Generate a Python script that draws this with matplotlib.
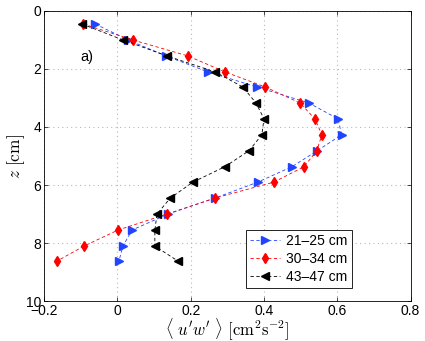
import numpy as np
import matplotlib
matplotlib.use("Agg")
import matplotlib.pyplot as plt

plt.rcParams['mathtext.fontset'] = 'cm'
plt.rcParams['font.family'] = ['Liberation Sans', 'DejaVu Sans']

# depth levels (cm)
z = [0.45, 1.0, 1.55, 2.1, 2.62, 3.17, 3.72, 4.27, 4.82, 5.37, 5.9, 6.45,
     7.0, 7.55, 8.1, 8.62]

# <u'w'> for each range
uw_21_25 = [-0.061, 0.029, 0.132, 0.247, 0.38, 0.522, 0.602, 0.612, 0.545,
            0.476, 0.383, 0.266, 0.138, 0.04, 0.015, 0.004]
uw_30_34 = [-0.094, 0.042, 0.192, 0.293, 0.403, 0.498, 0.539, 0.558, 0.544,
            0.509, 0.427, 0.266, 0.135, 0.002, -0.091, -0.165]
uw_43_47 = [-0.097, 0.015, 0.135, 0.266, 0.342, 0.378, 0.40, 0.394, 0.359,
            0.293, 0.206, 0.144, 0.108, 0.102, 0.102, 0.165]

labels = ['21\u201325 cm', '30\u201334 cm', '43\u201347 cm']

fig = plt.figure(figsize=(4.25, 3.41), dpi=100)
ax = fig.add_axes([0.104, 0.117, 0.862, 0.851])

ax.plot(uw_21_25, z, '--', color='#2244ff', marker='>', markersize=5.5,
        linewidth=0.6, label=labels[0], dashes=(4, 3))
ax.plot(uw_30_34, z, '--', color='#ff0000', marker='d', markersize=5.5,
        linewidth=0.6, label=labels[1], dashes=(4, 3))
ax.plot(uw_43_47, z, '--', color='black', marker='<', markersize=5.5,
        linewidth=0.6, label=labels[2], dashes=(4, 3))

ax.set_xlim(-0.2, 0.8)
ax.set_ylim(10, 0)
ax.set_xticks([-0.2, 0, 0.2, 0.4, 0.6, 0.8])
ax.set_xticklabels(['\u22120.2', '0', '0.2', '0.4', '0.6', '0.8'])
ax.set_yticks([0, 2, 4, 6, 8, 10])
ax.tick_params(direction='in', top=True, right=True, labelsize=10, length=3,
               width=0.5, pad=2)
for s in ax.spines.values():
    s.set_linewidth(0.6)
ax.grid(True, linestyle=(0, (1, 3)), color='#b8b8b8', linewidth=0.8)

ax.set_xlabel(r"$\langle\ u'w'\ \rangle\ [\mathrm{cm}^2\mathrm{s}^{-2}]$",
              fontsize=12, labelpad=-1)
ax.set_ylabel(r"$z\ [\mathrm{cm}]$", fontsize=12.5)
ax.yaxis.set_label_coords(-0.047, 0.5)

ax.text(-0.083, 1.6, 'a)', fontsize=10.5, va='center', ha='center')

leg = ax.legend(loc='lower right', bbox_to_anchor=(0.858, 0.02), fontsize=10,
                fancybox=False, framealpha=1, edgecolor='black',
                handlelength=2.2, handletextpad=0.4, borderpad=0.3,
                labelspacing=0.3)
leg.get_frame().set_linewidth(0.6)

fig.savefig('out.png', dpi=100)
